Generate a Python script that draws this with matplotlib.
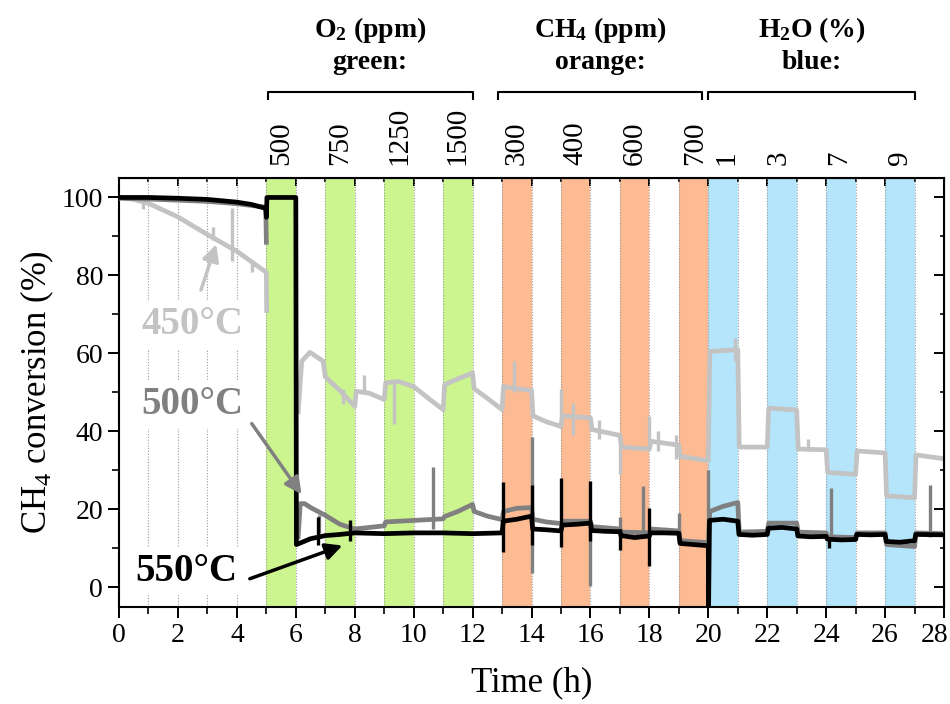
import numpy as np
import matplotlib.pyplot as plt
from matplotlib.transforms import blended_transform_factory, ScaledTranslation

plt.rcParams['font.family'] = ['Liberation Serif', 'DejaVu Serif']
plt.rcParams['mathtext.fontset'] = 'custom'
plt.rcParams['mathtext.rm'] = 'Liberation Serif'
plt.rcParams['mathtext.bf'] = 'Liberation Serif:bold'
plt.rcParams['mathtext.it'] = 'Liberation Serif:italic'

nan = np.nan

# --- 450 C (light grey) ---
t_450 = [0, 0.5, 1, 2, 3, 4, 4.5, 5.0, 5.01, 5.5,
         6.08, 6.2, 6.48, 6.93, 7.0, 7.5, 8.0, 8.05, 8.5, 9.0, 9.05, 9.5, 10.0, 10.5,
         11.0, 11.05, 11.5, 12.0, 12.05, 12.5, 13.0, 13.05, 13.5, 14.0, 14.05, 14.5,
         15.0, 15.05, 16.0, 16.05, 17.0, 17.05, 18.0, 18.05, 19.0, 19.05, 20.0, 20.05,
         21.0, 21.05, 22.0, 22.05, 23.0, 23.05, 24.0, 24.05, 25.0, 25.05, 26.0, 26.05,
         27.0, 27.05, 28.0]
c_450 = [100, 99.5, 98.5, 95, 90.5, 86.2, 83.5, 80.8, 71, nan,
         45, 58, 60.3, 58, 54, 50.5, 46.4, 50.3, 49.8, 48.2, 52.5, 52.8, 51.5, 48.5,
         45.6, 52, 53.5, 55, 51, 48.5, 45.6, 51.5, 51, 50.5, 44, 42.5,
         41.3, 44, 43.5, 40.5, 39, 36, 35.5, 37.5, 36.5, 33.6, 32.5, 60.5,
         61, 36, 36, 46, 45.5, 35.5, 35.3, 29.5, 29, 35, 34.5, 23.5,
         23, 34, 33]
spk_450_t = [0.8, 3.2, 3.84, 4.5, 7.6, 8.3, 9.33, 13.4, 15.0, 15.4, 16.3, 17.0, 18.0, 18.3, 18.9, 20.9, 23.4]
spk_450_lo = [97, 89, 83.6, 81, 47, 49.5, 41.8, 50, 41, 39, 38, 29, 37, 35, 33, 58, 35]
spk_450_hi = [100, 92.5, 97.4, 84, 51, 54.6, 52.5, 58, 50.8, 47.4, 43, 36, 44, 40, 39, 64, 38]

# --- 500 C (grey) ---
t_500 = [0, 1, 2, 3, 4, 4.98, 5.0, 5.5,
         6.08, 6.15, 6.3, 6.5, 7.0, 7.5, 8.0, 8.5, 9.0, 9.05, 10.0, 11.0, 11.05, 11.5,
         12.0, 12.05, 12.5, 13.0, 13.05, 13.5, 14.0, 14.05, 14.5, 15.0, 15.05, 16.0,
         16.05, 17.0, 17.05, 18.0, 18.05, 19.0, 19.05, 20.0, 20.05, 20.5, 21.0, 21.05,
         22.0, 22.05, 23.0, 23.05, 24.0, 24.05, 25.0, 25.05, 26.0, 26.05, 27.0, 27.05, 28.0]
c_500 = [99.8, 99.6, 99.3, 99, 98.4, 97.5, 88.5, nan,
         13, 21.5, 21.5, 20.5, 18.5, 16.2, 15, 15.4, 15.8, 16.8, 17.2, 17.6, 18.2, 19.5,
         21.3, 19.5, 18.3, 17.4, 19.5, 20.3, 20.5, 17.5, 16.8, 16.4, 17.0, 17.0,
         15.6, 15.0, 14.2, 14.0, 15.0, 14.5, 12, 11.5, 19.5, 20.8, 21.8, 14.2,
         14.4, 16.5, 16.5, 14.2, 14.0, 13.0, 12.8, 14.0, 14.0, 11.0, 10.5, 14.0, 13.8]
spk_500_t = [6.8, 10.67, 14.0, 16.0, 17.0, 17.8, 19.0, 20.0, 24.17, 27.53]
spk_500_lo = [14, 15, 3.8, 0.3, 13, 14, 12, 13, 13, 13]
spk_500_hi = [18.7, 31, 38.5, 16, 18, 26, 19, 30, 25.6, 26.4]

# --- 550 C (black) ---
t_550 = [0, 1, 2, 3, 4, 4.5, 4.98, 5.0, 5.02, 6.0, 6.02, 6.5, 7.0, 7.5, 8.0, 9.0,
         10.0, 11.0, 12.0, 13.0, 13.04, 13.5, 14.0, 14.04, 14.5, 15.0, 15.04, 15.5,
         16.0, 16.04, 16.5, 17.0, 17.04, 17.5, 18.0, 18.04, 18.5, 19.0, 19.04, 19.5,
         20.0, 20.01, 20.04, 20.5, 21.0, 21.04, 21.5, 22.0, 22.04, 22.5, 23.0, 23.04,
         23.5, 24.0, 24.04, 24.5, 25.0, 25.04, 25.5, 26.0, 26.04, 26.5, 27.0, 27.04, 28.0]
c_550 = [100, 100, 99.8, 99.5, 98.8, 98.2, 97.2, 94.9, 100, 100, 11.0, 12.5, 13.3, 13.6,
         14.0, 13.8, 14.0, 14.0, 13.8, 14.0, 17.0, 17.5, 18.3, 15.0, 14.8, 14.5, 16.0,
         16.2, 16.5, 14.6, 14.4, 14.3, 13.3, 12.8, 13.2, 14.0, 14.0, 13.9, 11.3, 11.0,
         10.7, -5, 17.2, 17.5, 17.0, 13.6, 13.4, 13.6, 15.2, 15.4, 15.0, 13.2, 13.0,
         13.1, 12.4, 12.2, 12.3, 13.6, 13.5, 13.6, 11.8, 11.6, 12.0, 13.6, 13.5]
spk_550_t = [6.75, 7.84, 13.03, 14.02, 15.0, 16.0, 17.0, 18.0, 24.1]
spk_550_lo = [11, 12, 9, 11, 10.5, 12, 9.7, 5.4, 10]
spk_550_hi = [18, 17.4, 27, 26.4, 28, 27.4, 15, 20.5, 13]

# coloured bands (start hour, 1 h wide)
green_start = [5, 7, 9, 11]
orange_start = [13, 15, 17, 19]
blue_start = [20, 22, 24, 26]

# top labels
o2_labels = ['500', '750', '1250', '1500']
o2_pos = [5.5, 7.5, 9.5, 11.5]
ch4_labels = ['300', '400', '600', '700']
ch4_pos = [13.5, 15.5, 17.5, 19.55]
h2o_labels = ['1', '3', '7', '9']
h2o_pos = [20.6, 22.4, 24.45, 26.5]

c450 = '#c3c3c3'
c500 = '#808080'
c550 = 'black'

fig = plt.figure(figsize=(9.5, 7.04), dpi=100)
ax = fig.add_axes([0.1253, 0.1378, 0.8684, 0.6094])

for s in green_start:
    ax.axvspan(s, s + 1, color='#ccf590', lw=0, zorder=0)
for s in orange_start:
    ax.axvspan(s, s + 1, color='#fdbb94', lw=0, zorder=0)
for s in blue_start:
    ax.axvspan(s, s + 1, color='#b4e5fb', lw=0, zorder=0)

ax.vlines(range(1, 28), -5, 105, colors='#9a9a9a', linestyles=(0, (1, 1.5)), lw=0.8, zorder=1)

lw = 3.4
ax.plot(t_450, c_450, color=c450, lw=lw, zorder=2)
ax.vlines(spk_450_t, spk_450_lo, spk_450_hi, colors=c450, lw=2.4, zorder=2)
ax.plot(t_500, c_500, color=c500, lw=lw, zorder=3)
ax.vlines(spk_500_t, spk_500_lo, spk_500_hi, colors=c500, lw=2.4, zorder=3)
ax.plot(t_550, c_550, color=c550, lw=lw, zorder=4)
ax.vlines(spk_550_t, spk_550_lo, spk_550_hi, colors=c550, lw=2.4, zorder=4)

ax.set_xlim(0, 28)
ax.set_ylim(-5, 105)
ax.set_xticks(range(0, 29, 2))
ax.set_xticks(range(1, 28, 2), minor=True)
ax.set_yticks(range(0, 101, 20))
ax.set_yticks(range(10, 101, 20), minor=True)
ax.tick_params(which='major', direction='out', length=8, width=1.4, labelsize=20)
ax.tick_params(which='minor', direction='out', length=5, width=1.2)
for sp in ax.spines.values():
    sp.set_linewidth(1.5)

# nudge the last x label ("28") so it stays inside the figure
last = ax.xaxis.get_major_ticks()[-1].label1
last.set_transform(last.get_transform() + ScaledTranslation(-0.09, 0, fig.dpi_scale_trans))

secx = ax.secondary_xaxis('top')
secx.set_xticks(range(0, 29, 2))
secx.set_xticks(range(1, 28, 2), minor=True)
secx.set_xticklabels([])
secx.tick_params(which='major', direction='in', length=6, width=1.4)
secx.tick_params(which='minor', direction='in', length=3, width=1.2)
secy = ax.secondary_yaxis('right')
secy.set_yticks(range(0, 101, 20))
secy.set_yticks(range(10, 101, 20), minor=True)
secy.set_yticklabels([])
secy.tick_params(which='major', direction='in', length=7, width=1.4)
secy.tick_params(which='minor', direction='in', length=3, width=1.2)

ax.set_xlabel('Time (h)', fontsize=25, labelpad=13)
ax.set_ylabel('CH$_\\mathregular{4}$ conversion (%)', fontsize=25, labelpad=4)

# temperature labels with arrows
box = dict(facecolor='white', edgecolor='none', pad=4)
ax.text(2.48, 67.4, '450°C', color=c450, fontsize=28, fontweight='bold',
        ha='center', va='center', bbox=box, zorder=5)
ax.annotate('', xy=(3.33, 88.7), xytext=(2.75, 75.6),
            arrowprops=dict(arrowstyle='-|>', color=c450, lw=2.5, mutation_scale=25), zorder=6)
ax.text(2.48, 46.9, '500°C', color=c500, fontsize=28, fontweight='bold',
        ha='center', va='center', bbox=box, zorder=5)
ax.annotate('', xy=(6.25, 23.3), xytext=(4.45, 42.6),
            arrowprops=dict(arrowstyle='-|>', color=c500, lw=2.5, mutation_scale=25), zorder=6)
ax.text(2.3, 4.1, '550°C', color=c550, fontsize=28, fontweight='bold',
        ha='center', va='center', bbox=box, zorder=5)
ax.annotate('', xy=(7.67, 11.0), xytext=(4.35, 2.0),
            arrowprops=dict(arrowstyle='-|>', color=c550, lw=2.5, mutation_scale=25), zorder=6)

# top annotations
trans = blended_transform_factory(ax.transData, ax.transAxes)
for labels, pos in [(o2_labels, o2_pos), (ch4_labels, ch4_pos), (h2o_labels, h2o_pos)]:
    for lab, x in zip(labels, pos):
        ax.text(x, 1.03, lab, rotation=90, ha='center', va='bottom', fontsize=21, transform=trans)

brackets = [(5.05, 12.0), (12.85, 19.8), (20.0, 27.0)]
headings = [('O$_\\mathbf{2}$ (ppm)', 'green:'), ('CH$_\\mathbf{4}$ (ppm)', 'orange:'),
            ('H$_\\mathbf{2}$O (%)', 'blue:')]
for (x0, x1), (h1, h2) in zip(brackets, headings):
    ax.plot([x0, x0, x1, x1], [1.184, 1.2005, 1.2005, 1.184], color='black', lw=1.5,
            transform=trans, clip_on=False)
    xc = (x0 + x1) / 2
    ax.text(xc, 1.345, h1, ha='center', va='center', fontsize=20, fontweight='bold', transform=trans)
    ax.text(xc, 1.27, h2, ha='center', va='center', fontsize=20, fontweight='bold', transform=trans)

fig.savefig('out.png', dpi=100)
